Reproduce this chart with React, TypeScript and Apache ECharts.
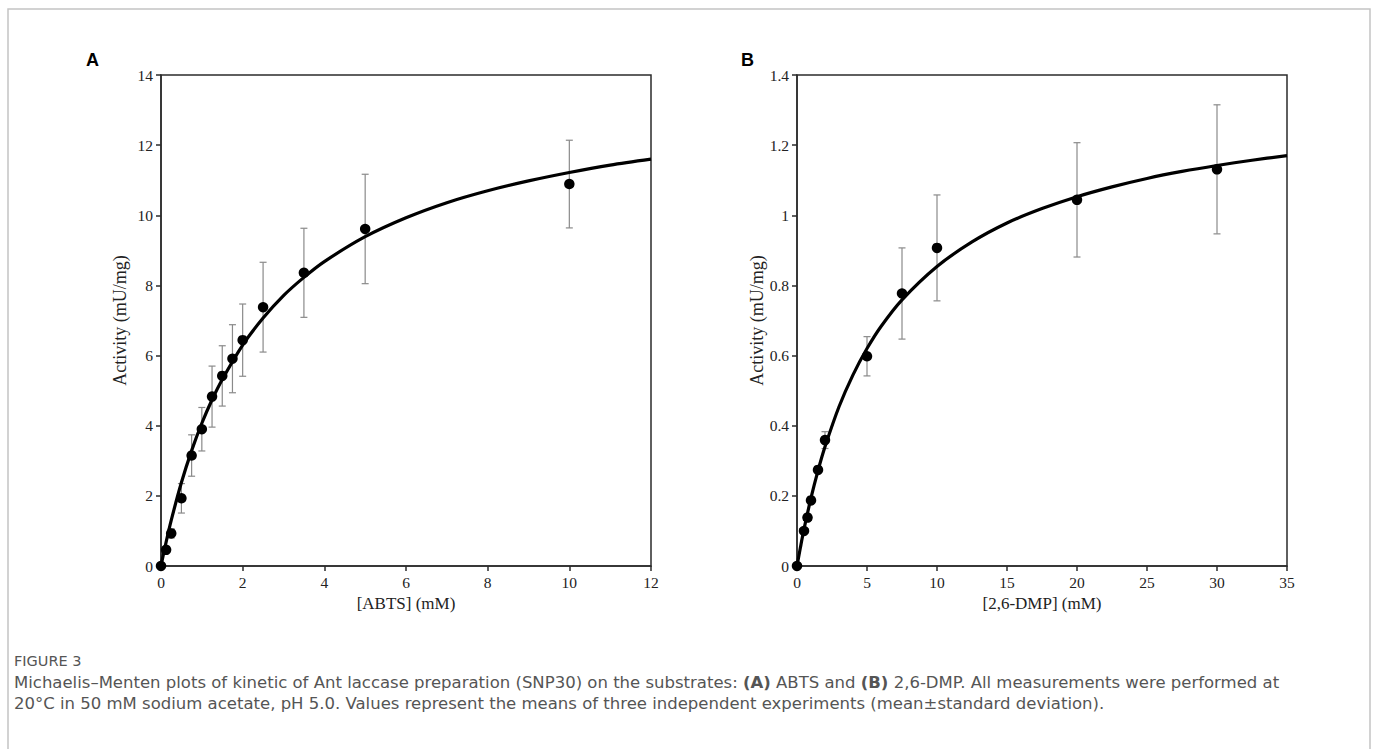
import React, { useEffect, useRef } from "react";
import * as echarts from "echarts";

// Panel A: ABTS
const abtsConc = [0, 0.125, 0.25, 0.5, 0.75, 1, 1.25, 1.5, 1.75, 2, 2.5, 3.5, 5, 10];
const abtsMean = [0, 0.46, 0.93, 1.93, 3.15, 3.9, 4.83, 5.42, 5.91, 6.44, 7.38, 8.36, 9.61, 10.89];
const abtsSd = [0, 0.05, 0.13, 0.42, 0.59, 0.62, 0.87, 0.86, 0.97, 1.03, 1.28, 1.27, 1.56, 1.25];
const abtsFitX = [0, 0.1, 0.25, 0.5, 0.75, 1, 1.25, 1.5, 2, 2.5, 3, 3.5, 4, 5, 6, 7, 8, 9, 10, 11, 12];
const abtsFitY = [0, 0.55, 1.3, 2.38, 3.29, 4.07, 4.74, 5.32, 6.3, 7.07, 7.71, 8.23, 8.68, 9.39, 9.93, 10.36, 10.7, 10.98, 11.22, 11.43, 11.6];

// Panel B: 2,6-DMP
const dmpConc = [0, 0.5, 0.75, 1, 1.5, 2, 5, 7.5, 10, 20, 30];
const dmpMean = [0, 0.1, 0.138, 0.187, 0.274, 0.359, 0.598, 0.777, 0.907, 1.044, 1.131];
const dmpSd = [0, 0.005, 0.005, 0.005, 0.008, 0.024, 0.056, 0.13, 0.151, 0.163, 0.184];
const dmpFitX = [0, 0.25, 0.5, 1, 1.5, 2, 3, 4, 5, 6, 7.5, 10, 12.5, 15, 17.5, 20, 22.5, 25, 27.5, 30, 32.5, 35];
const dmpFitY = [0, 0.054, 0.105, 0.194, 0.272, 0.34, 0.454, 0.545, 0.62, 0.683, 0.759, 0.854, 0.924, 0.978, 1.019, 1.053, 1.081, 1.105, 1.125, 1.142, 1.157, 1.17];

const panelLabels = ["A", "B"];
const xNames = ["[ABTS] (mM)", "[2,6-DMP] (mM)"];
const yName = "Activity (mU/mg)";
const figureTitle = "FIGURE 3";
const captionLine1 =
  "Michaelis–Menten plots of kinetic of Ant laccase preparation (SNP30) on the substrates: {b|(A)} ABTS and {b|(B)} 2,6-DMP. All measurements were performed at";
const captionLine2 =
  "20°C in 50 mM sodium acetate, pH 5.0. Values represent the means of three independent experiments (mean±standard deviation).";

const SERIF = "'Liberation Serif', 'Times New Roman', serif";
const SANS = "'DejaVu Sans', 'Open Sans', sans-serif";
const AX = "#2b2b2b";

function errorBarSeries(xIndex: number, xs: number[], means: number[], sds: number[]) {
  const data = xs.map((x, i) => [x, means[i] - sds[i], means[i] + sds[i]]);
  return {
    type: "custom",
    xAxisIndex: xIndex,
    yAxisIndex: xIndex,
    data,
    z: 2,
    renderItem: (_params: any, api: any) => {
      const x = api.value(0);
      const lo = api.value(1);
      const hi = api.value(2);
      const pHi = api.coord([x, hi]);
      const pLo = api.coord([x, lo]);
      if (Math.abs(pHi[1] - pLo[1]) < 1) return null;
      const w = 3.5;
      const style = { stroke: "#8a8a8a", lineWidth: 1.2 };
      return {
        type: "group",
        children: [
          { type: "line", shape: { x1: pHi[0], y1: pHi[1], x2: pLo[0], y2: pLo[1] }, style },
          { type: "line", shape: { x1: pHi[0] - w, y1: pHi[1], x2: pHi[0] + w, y2: pHi[1] }, style },
          { type: "line", shape: { x1: pLo[0] - w, y1: pLo[1], x2: pLo[0] + w, y2: pLo[1] }, style },
        ],
      };
    },
  };
}

export default function App() {
  const ref = useRef<HTMLDivElement>(null);
  useEffect(() => {
    if (!ref.current) return;
    const chart = echarts.init(ref.current, undefined, { renderer: "svg" });

    const gridCommon = {
      top: 75,
      bottom: 183,
      show: true,
      borderColor: AX,
      borderWidth: 1.5,
      backgroundColor: "transparent",
    };
    const axisCommon = {
      axisLine: { show: true, onZero: false, lineStyle: { color: AX, width: 1.5 } },
      axisTick: { show: true, inside: false, length: 5, lineStyle: { color: AX, width: 1.5 } },
      splitLine: { show: false },
      axisLabel: { color: "#222", fontFamily: SERIF, fontSize: 15.5, margin: 8 },
      nameLocation: "middle",
      nameTextStyle: { color: "#222", fontFamily: SERIF, fontSize: 17 },
    };

    const fit = (i: number, xs: number[], ys: number[]) => ({
      type: "line",
      xAxisIndex: i,
      yAxisIndex: i,
      data: xs.map((x, k) => [x, ys[k]]),
      smooth: 0.3,
      showSymbol: false,
      symbol: "none",
      lineStyle: { color: "#000", width: 3.2 },
      z: 3,
    });
    const dots = (i: number, xs: number[], ys: number[]) => ({
      type: "scatter",
      xAxisIndex: i,
      yAxisIndex: i,
      data: xs.map((x, k) => [x, ys[k]]),
      symbol: "circle",
      symbolSize: 10.5,
      itemStyle: { color: "#000", opacity: 1 },
      z: 4,
    });

    chart.setOption({
      animation: false,
      backgroundColor: "#fff",
      grid: [
        { ...gridCommon, left: 161, right: 724 },
        { ...gridCommon, left: 797, right: 88 },
      ],
      xAxis: [
        { ...axisCommon, type: "value", gridIndex: 0, min: 0, max: 12, interval: 2, name: xNames[0], nameGap: 25 },
        { ...axisCommon, type: "value", gridIndex: 1, min: 0, max: 35, interval: 5, name: xNames[1], nameGap: 25 },
      ],
      yAxis: [
        { ...axisCommon, type: "value", gridIndex: 0, min: 0, max: 14, interval: 2, name: yName, nameGap: 32, nameTextStyle: { color: "#222", fontFamily: SERIF, fontSize: 18 } },
        { ...axisCommon, type: "value", gridIndex: 1, min: 0, max: 1.4, interval: 0.2, name: yName, nameGap: 28, nameTextStyle: { color: "#222", fontFamily: SERIF, fontSize: 18 } },
      ],
      series: [
        errorBarSeries(0, abtsConc, abtsMean, abtsSd),
        fit(0, abtsFitX, abtsFitY),
        dots(0, abtsConc, abtsMean),
        errorBarSeries(1, dmpConc, dmpMean, dmpSd),
        fit(1, dmpFitX, dmpFitY),
        dots(1, dmpConc, dmpMean),
      ],
      graphic: [
        {
          type: "rect",
          shape: { x: 8, y: 9, width: 1362, height: 800 },
          style: { fill: "none", stroke: "#c4c4c4", lineWidth: 1.5 },
          silent: true,
        },
        {
          type: "text",
          x: 86,
          y: 51,
          style: { text: panelLabels[0], font: "bold 18px 'Liberation Sans', Arial, sans-serif", fill: "#000" },
        },
        {
          type: "text",
          x: 741,
          y: 51,
          style: { text: panelLabels[1], font: "bold 18px 'Liberation Sans', Arial, sans-serif", fill: "#000" },
        },
        {
          type: "text",
          x: 14,
          y: 661,
          style: { text: figureTitle, fontFamily: SANS, fontSize: 14.5, fill: "#555", verticalAlign: "middle", lineHeight: 17 },
        },
        {
          type: "text",
          x: 14,
          y: 682,
          style: {
            text: captionLine1,
            fontFamily: SANS,
            fontSize: 16.5,
            lineHeight: 19,
            verticalAlign: "middle",
            fill: "#555",
            rich: { b: { fontFamily: SANS, fontSize: 16.5, lineHeight: 19, fontWeight: "bold", fill: "#555" } },
          },
        },
        {
          type: "text",
          x: 14,
          y: 703,
          style: { text: captionLine2, fontFamily: SANS, fontSize: 16.5, lineHeight: 19, verticalAlign: "middle", fill: "#555" },
        },
      ],
    });
    return () => chart.dispose();
  }, []);
  return (
    <div
      ref={ref}
      style={{ position: "fixed", left: 0, top: 0, width: 1375, height: 749 }}
    />
  );
}
